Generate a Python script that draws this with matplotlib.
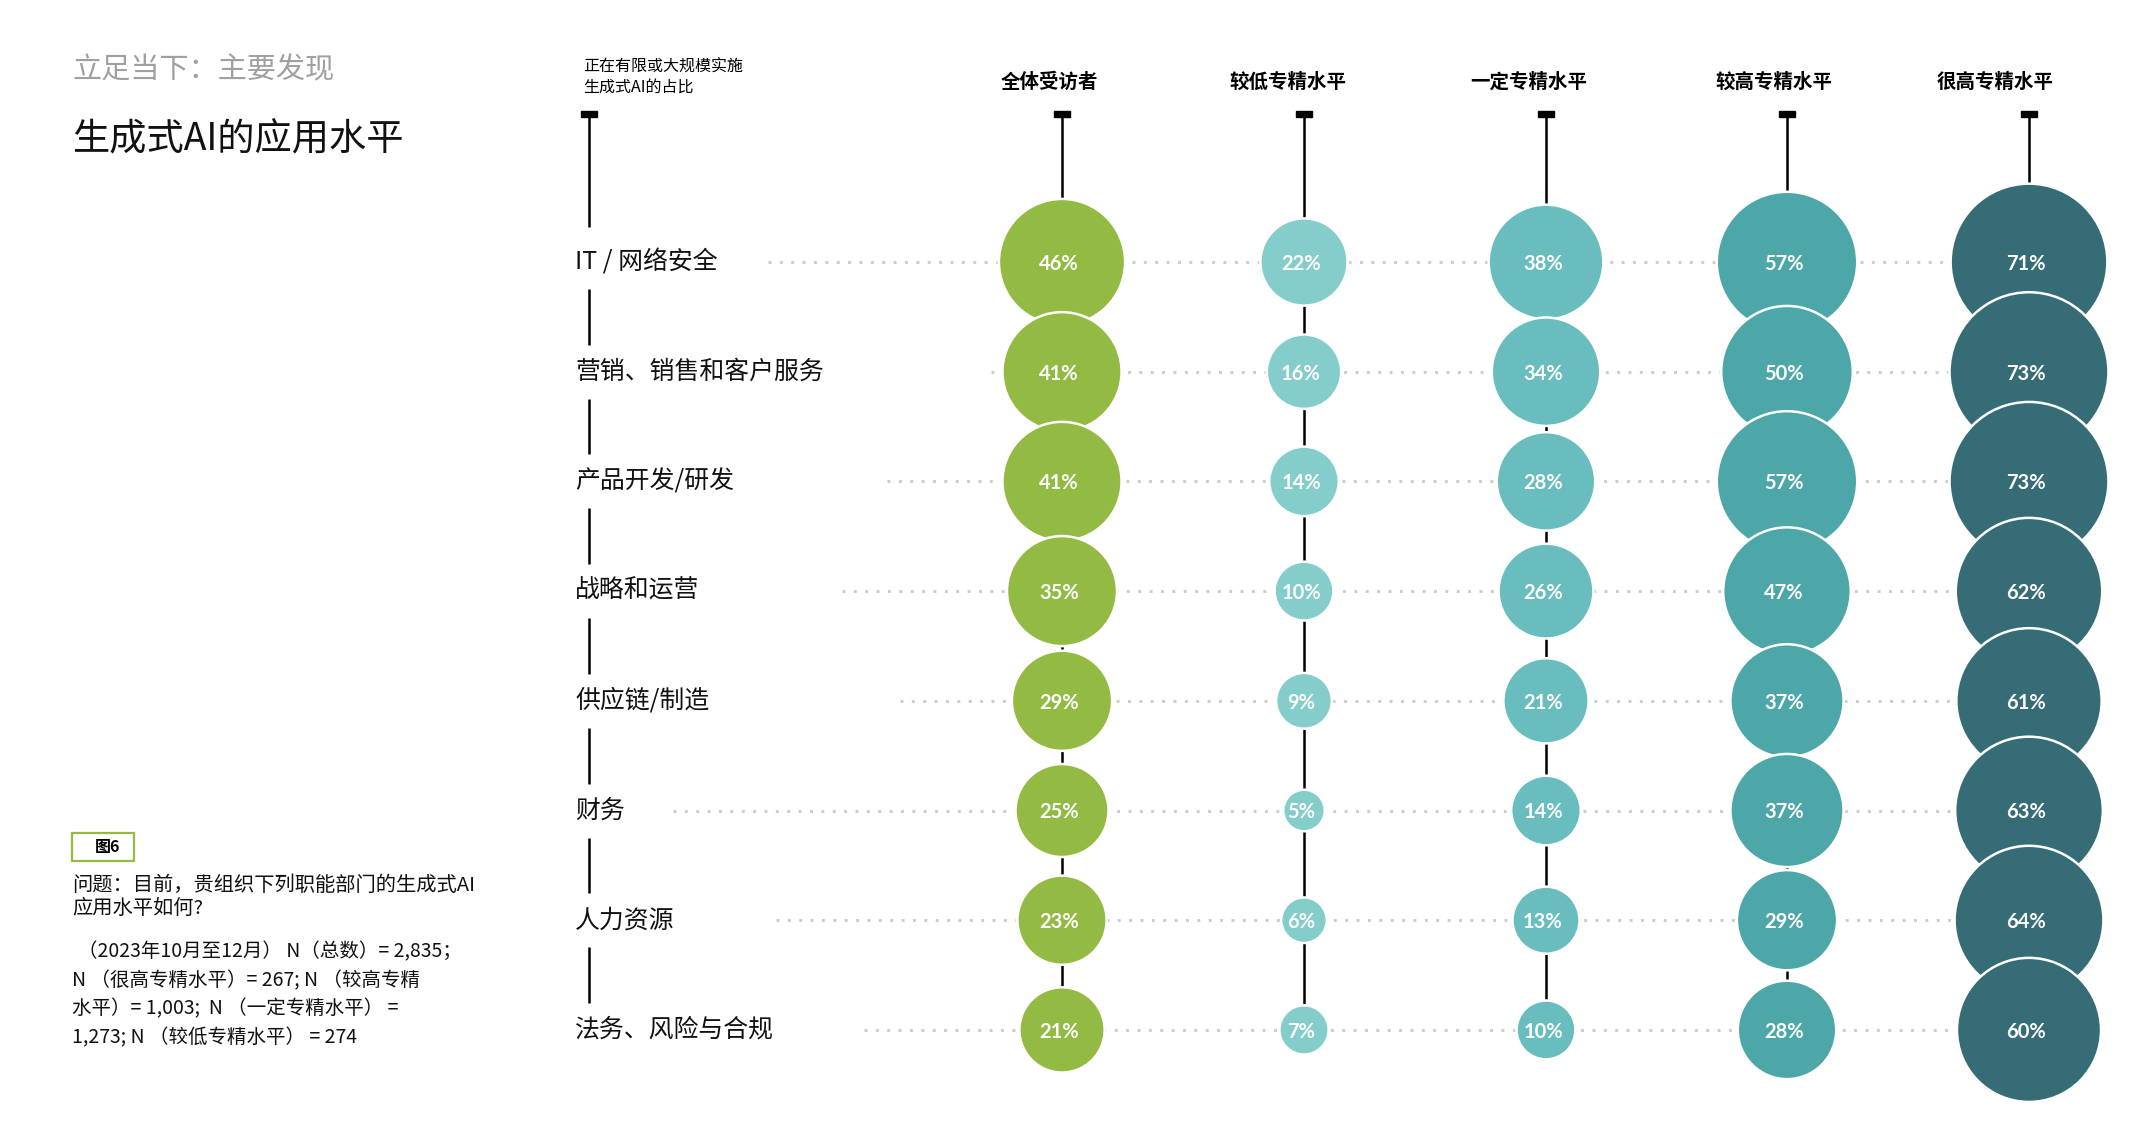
import matplotlib
matplotlib.use("Agg")
import matplotlib.pyplot as plt
from matplotlib.patches import Circle, Rectangle
import numpy as np

plt.rcParams['font.family'] = ['Noto Sans CJK SC', 'DejaVu Sans']

# ---------------- data ----------------
functions = ["IT / 网络安全", "营销、销售和客户服务", "产品开发/研发", "战略和运营",
             "供应链/制造", "财务", "人力资源", "法务、风险与合规"]
groups = ["全体受访者", "较低专精水平", "一定专精水平", "较高专精水平", "很高专精水平"]
all_resp = [46, 41, 41, 35, 29, 25, 23, 21]
low_level = [22, 16, 14, 10, 9, 5, 6, 7]
some_level = [38, 34, 28, 26, 21, 14, 13, 10]
high_level = [57, 50, 57, 47, 37, 37, 29, 28]
very_high_level = [71, 73, 73, 62, 61, 63, 64, 60]
series = [all_resp, low_level, some_level, high_level, very_high_level]

title_small = "立足当下：主要发现"
title_main = "生成式AI的应用水平"
axis_note = "正在有限或大规模实施\n生成式AI的占比"
fig_label = "图6"
question = "问题：目前，贵组织下列职能部门的生成式AI\n应用水平如何?"
sample_note = ["（2023年10月至12月） N（总数）= 2,835；",
               "N （很高专精水平）= 267; N （较高专精",
               "水平）= 1,003;  N （一定专精水平） =",
               "1,273; N （较低专精水平） = 274"]

# ---------------- styles / layout ----------------
colors = ["#93BA43", "#84CDCA", "#69BDBF", "#4DA7A9", "#366C75"]
W, H = 2134, 1124
col_x = [1062, 1304, 1546, 1787, 2029]
head_x = [1049, 1288, 1529, 1774, 1995]
row_y = 262 + 109.7 * np.arange(len(functions))
dot_start = [768, 991, 887, 842, 900, 673, 776, 864]
label_x = 575
left_line_x = 589
r_scale = 9.3

fig = plt.figure(figsize=(W / 100, H / 100), dpi=100)
ax = fig.add_axes([0, 0, 1, 1])
ax.set_xlim(0, W)
ax.set_ylim(H, 0)
ax.axis("off")

# titles
ax.text(72, 70, title_small, fontsize=21, color="#A0A0A0", va="center", ha="left")
ax.text(72, 140, title_main, fontsize=26.8, color="#111111", va="center", ha="left")

# left note block
ax.add_patch(Rectangle((72, 833), 62, 28, facecolor="white", edgecolor="#93BA43", lw=1.6, zorder=2))
ax.text(108, 847, fig_label, fontsize=11.5, fontweight="bold", ha="center", va="center", zorder=3)
ax.text(72, 897, question, fontsize=14.6, fontstyle="italic", ha="left", va="center",
        linespacing=1.1, color="#111111")
for i, line in enumerate(sample_note):
    ax.text(72 if i else 78, 952 + i * 28.5, line, fontsize=14, fontstyle="italic",
            ha="left", va="center", color="#111111")

# axis note & left vertical line
ax.text(583, 77, axis_note, fontsize=11.5, ha="left", va="center", linespacing=1.25)
ax.add_patch(Rectangle((left_line_x - 8, 111), 16, 6, color="black", zorder=3))
ax.plot([left_line_x, left_line_x], [117, row_y[0] - 35], color="black", lw=1.8, solid_capstyle="butt")
for i in range(len(functions) - 1):
    ax.plot([left_line_x, left_line_x], [row_y[i] + 27, row_y[i + 1] - 27],
            color="black", lw=1.8, solid_capstyle="butt")

# row labels and dotted guides
for i, name in enumerate(functions):
    ax.text(label_x, row_y[i], name, fontsize=17.9, ha="left", va="center", color="#111111")
    ax.plot([dot_start[i], col_x[-1]], [row_y[i], row_y[i]], color="#CCCCCC", lw=2.1,
            linestyle=(0, (1, 2.9)), zorder=1)

# columns
for j, (g, vals) in enumerate(zip(groups, series)):
    x = col_x[j]
    ax.text(head_x[j], 82, g, fontsize=14, fontweight="bold", ha="center", va="center")
    ax.add_patch(Rectangle((x - 8, 111), 16, 6, color="black", zorder=3))
    ax.plot([x, x], [117, row_y[-1]], color="black", lw=1.8, solid_capstyle="butt", zorder=2)
    for i, v in enumerate(vals):
        r = r_scale * np.sqrt(v)
        ax.add_patch(Circle((x, row_y[i]), r, facecolor=colors[j], edgecolor="white",
                            lw=1.8, zorder=10 + i))
        ax.text(x - 3, row_y[i] + 2, f"{v}%", fontsize=14.5, fontweight="bold", color="white",
                family=["Lato", "DejaVu Sans"], ha="center", va="center", zorder=30)

fig.savefig("out.png", dpi=100, facecolor="white")
